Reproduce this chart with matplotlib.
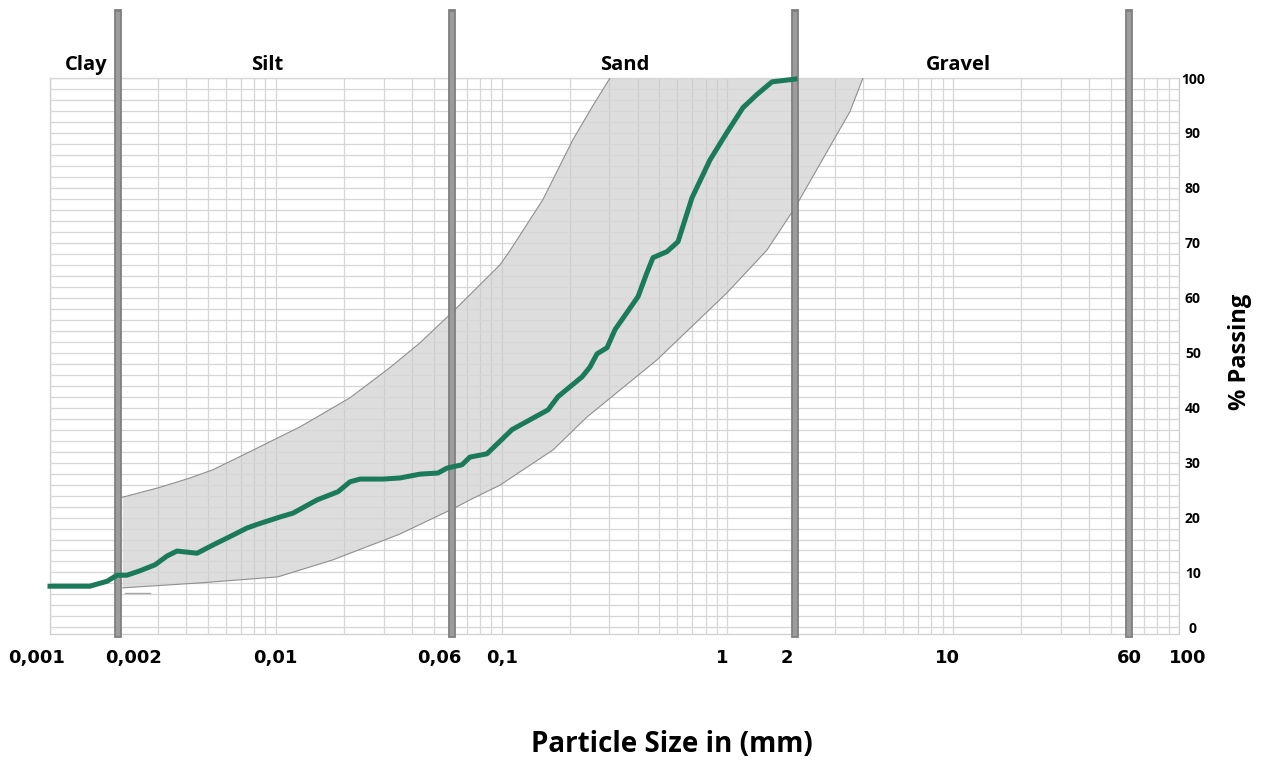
import matplotlib.pyplot as plt
from matplotlib.ticker import FixedLocator, LogLocator, NullFormatter
from matplotlib.transforms import ScaledTranslation

# grading curve of the sample (mm, % passing)
size_mm = [0.001, 0.0015, 0.00179, 0.00198, 0.00219, 0.0025, 0.00292, 0.0033,
           0.00365, 0.00448, 0.00527, 0.00646, 0.00746, 0.00834, 0.01044, 0.01192,
           0.01522, 0.01886, 0.02131, 0.0236, 0.02984, 0.03548, 0.04351, 0.05228,
           0.05731, 0.06677, 0.07244, 0.08614, 0.1112, 0.1606, 0.1778, 0.2271,
           0.2463, 0.2646, 0.293, 0.3179, 0.4019, 0.4406, 0.4683, 0.5402, 0.6042,
           0.697, 0.8375, 0.9959, 1.172, 1.352, 1.576, 1.992]
passing = [7.5, 7.5, 8.4, 9.5, 9.5, 10.3, 11.4, 13.0,
           13.9, 13.5, 15.0, 16.8, 18.1, 18.8, 20.1, 20.8,
           23.2, 24.7, 26.5, 27.0, 27.0, 27.2, 27.9, 28.1,
           29.0, 29.6, 31.0, 31.6, 36.0, 39.6, 42.0, 45.6,
           47.4, 49.8, 50.9, 54.2, 60.2, 64.6, 67.3, 68.4, 70.2,
           78.2, 85.1, 90.1, 94.6, 97.0, 99.3, 99.8]

# envelope (grey band)
upper_mm = [0.0021, 0.00307, 0.00417, 0.00527, 0.00769, 0.0128, 0.02131, 0.03204,
            0.04351, 0.06094, 0.0984, 0.109, 0.1525, 0.2071, 0.254, 0.302]
upper_pct = [23.7, 25.5, 27.2, 28.7, 32.0, 36.5, 41.8, 47.3,
             51.8, 57.5, 66.0, 68.6, 77.9, 88.8, 95.0, 100.0]
lower_mm = [0.0021, 0.00462, 0.01023, 0.01792, 0.03548, 0.06094, 0.07396, 0.0984,
            0.1689, 0.2389, 0.4878, 0.9959, 1.498, 1.992, 3.491, 3.986]
lower_pct = [7.2, 8.1, 9.2, 12.3, 17.0, 21.6, 23.4, 25.9,
             32.3, 38.3, 48.7, 60.9, 68.7, 76.4, 93.9, 100.0]

# small stray mark under the band
stub_mm = [0.00215, 0.00277]
stub_pct = [6.3, 6.3]

boundaries = [0.002, 0.06, 2, 60]
zone_names = ['Clay', 'Silt', 'Sand', 'Gravel']
zone_x = [0.00144, 0.00914, 0.352, 10.5]

x_ticks = [0.001, 0.002, 0.01, 0.06, 0.1, 1, 2, 10, 60, 100]
x_tick_labels = ['0,001', '0,002', '0,01', '0,06', '0,1', '1', '2', '10', '60', '100']
x_label_shift = [-13, 16, 0, -12, 0, -5, -8, -6, 0, 9]  # pixels, as in the original layout
y_ticks = list(range(0, 101, 10))
y_grid = list(range(0, 101, 2))

fig = plt.figure(figsize=(12.63, 7.62), dpi=100)
ax = fig.add_axes([50 / 1263, 128 / 762, 1129 / 1263, 556 / 762])

ax.set_xscale('log')
ax.set_xlim(0.001, 100)
ax.set_ylim(-1.2, 100)

# grid
ax.xaxis.set_minor_locator(LogLocator(base=10, subs=range(2, 10), numticks=20))
ax.grid(which='both', axis='x', color='#d6d6d6', lw=0.9, zorder=3)
for yv in y_grid:
    ax.axhline(yv, color='#d6d6d6', lw=0.9, zorder=3)
for s in ax.spines.values():
    s.set_color('#cfcfcf')
    s.set_linewidth(0.9)

# band
poly_x = upper_mm + lower_mm[::-1]
poly_y = upper_pct + lower_pct[::-1]
ax.fill(poly_x, poly_y, color='#c9c9c9', alpha=0.62, lw=0, zorder=2)
ax.plot(upper_mm, upper_pct, color='#8f8f8f', lw=0.8, zorder=4)
ax.plot(lower_mm, lower_pct, color='#8f8f8f', lw=0.8, zorder=4)
ax.plot(stub_mm, stub_pct, color='#a8a8a8', lw=1.0, zorder=4)

# boundary bars
for b in boundaries:
    ax.axvline(b, ymin=0, ymax=1.117, color='#7d7d7d', lw=5.6, clip_on=False, zorder=5)
    ax.axvline(b, ymin=0, ymax=1.115, color='#9c9c9c', lw=3.2, clip_on=False, zorder=5)

# grading curve
ax.plot(size_mm, passing, color='#1a7a5a', lw=3.6, zorder=6, clip_on=False)

# zone names
for name, xz in zip(zone_names, zone_x):
    ax.text(xz, 1.0144, name, transform=ax.get_xaxis_transform(), ha='center',
            va='baseline', fontsize=14.5, fontweight='bold', family='Open Sans')

# ticks
ax.xaxis.set_major_locator(FixedLocator(x_ticks))
ax.xaxis.set_minor_formatter(NullFormatter())
ax.set_xticklabels(x_tick_labels, fontsize=13, fontweight='bold', family='DejaVu Sans')
ax.tick_params(axis='x', which='both', length=0, pad=11)
for lbl, dx in zip(ax.get_xticklabels(), x_label_shift):
    lbl.set_transform(lbl.get_transform() + ScaledTranslation(dx / 100, 0, fig.dpi_scale_trans))

ax.yaxis.tick_right()
ax.set_yticks(y_ticks)
ax.set_yticklabels([str(v) for v in y_ticks], fontsize=10, fontweight='bold',
                   family='Open Sans', ha='center')
ax.tick_params(axis='y', length=0, pad=10)

fig.text(1240 / 1263, 1 - 352 / 762, '% Passing', rotation=90, ha='center', va='center',
         fontsize=17, fontweight='bold', family='Open Sans')
fig.text(672 / 1263, 1 - 744 / 762, 'Particle Size in (mm)', ha='center', va='center',
         fontsize=20, fontweight='bold', family='Open Sans')

fig.savefig('out.png', dpi=100)
